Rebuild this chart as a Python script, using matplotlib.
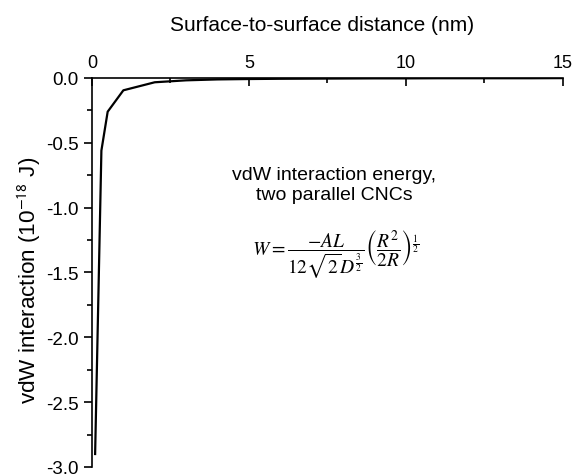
import matplotlib
matplotlib.use("Agg")
import matplotlib.pyplot as plt
from matplotlib.ticker import MultipleLocator

plt.rcParams['font.family'] = ['Liberation Sans', 'DejaVu Sans']
plt.rcParams['axes.unicode_minus'] = False
plt.rcParams['mathtext.fontset'] = 'stix'

distance = [0.1, 0.3, 0.5, 1.0, 2.0, 3.0, 4.0, 5.0, 6.0, 7.0, 8.0, 9.0, 10.0, 11.0, 12.0, 13.0, 14.0, 15.0]
energy = [-2.90, -0.56, -0.26, -0.095, -0.033, -0.018, -0.011, -0.008, -0.006, -0.005, -0.004, -0.003, -0.003, -0.002, -0.002, -0.002, -0.002, -0.001]

yticks = [0.0, -0.5, -1.0, -1.5, -2.0, -2.5, -3.0]
yticklabels = ['0.0', '-0.5', '-1.0', '-1.5', '-2.0', '-2.5', '-3.0']

fig = plt.figure(figsize=(5.84, 4.77), dpi=100)
ax = fig.add_axes([0.1575, 0.0189, 0.806, 0.8155])
ax.plot(distance, energy, color='black', lw=1.6)

ax.set_xlim(0, 15)
ax.set_ylim(-3.0, 0.0)
ax.xaxis.set_ticks_position('top')
ax.xaxis.set_label_position('top')
ax.xaxis.set_major_locator(MultipleLocator(5))
ax.xaxis.set_minor_locator(MultipleLocator(2.5))
ax.yaxis.set_minor_locator(MultipleLocator(0.25))
ax.set_yticks(yticks)
ax.set_yticklabels(yticklabels)
ax.tick_params(axis='x', which='major', direction='in', length=6, width=1.2, labelsize=13, pad=5)
ax.tick_params(axis='x', which='minor', direction='in', length=3.5, width=1.2)
ax.tick_params(axis='y', which='major', direction='out', length=6, width=1.2, labelsize=13.5, pad=3.5)
ax.tick_params(axis='y', which='minor', direction='out', length=3.5, width=1.2)

for s in ['right', 'bottom']:
    ax.spines[s].set_visible(False)
for s in ['left', 'top']:
    ax.spines[s].set_linewidth(1.2)

ax.set_xlabel('Surface-to-surface distance (nm)', fontsize=15, labelpad=17)
ax.xaxis.label.set_x(0.489)
ax.set_ylabel(r'vdW interaction (10$^{\mathsf{-18}}$ J)', fontsize=16.2, labelpad=2.5)
ax.yaxis.label.set_y(0.482)

ax.text(0.515, 0.726, 'vdW interaction energy,\ntwo parallel CNCs', transform=ax.transAxes,
        ha='center', va='center', fontsize=14, linespacing=1.2)
ax.text(0.518, 0.549,
        r'$W=\dfrac{-AL}{12\sqrt{2}D^{\frac{3}{2}}}\left(\dfrac{R^2}{2R}\right)^{\frac{1}{2}}$',
        transform=ax.transAxes, ha='center', va='center', fontsize=14)

fig.savefig('out.png', dpi=100)
